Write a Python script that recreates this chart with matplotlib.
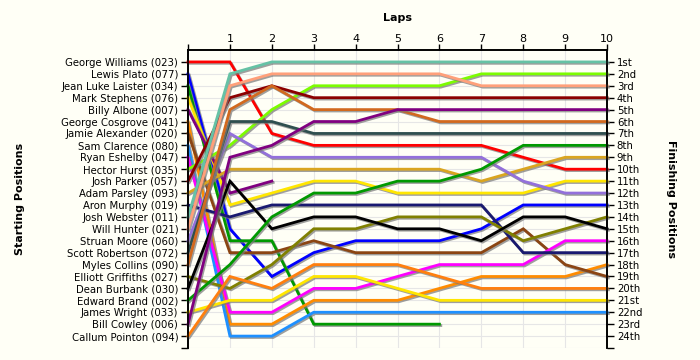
import numpy as np
from matplotlib import pyplot as plt
import matplotlib.patheffects as pe

# starting grid (position 1..24)
drivers = ['George Williams (023)', 'Lewis Plato (077)', 'Jean Luke Laister (034)',
           'Mark Stephens (076)', 'Billy Albone (007)', 'George Cosgrove (041)',
           'Jamie Alexander (020)', 'Sam Clarence (080)', 'Ryan Eshelby (047)',
           'Hector Hurst (035)', 'Josh Parker (057)', 'Adam Parsley (093)',
           'Aron Murphy (019)', 'Josh Webster (011)', 'Will Hunter (021)',
           'Struan Moore (060)', 'Scott Robertson (072)', 'Myles Collins (090)',
           'Elliott Griffiths (027)', 'Dean Burbank (030)', 'Edward Brand (002)',
           'James Wright (033)', 'Bill Cowley (006)', 'Callum Pointon (094)']

finish_labels = ['1st', '2nd', '3rd'] + ['%dth' % i for i in range(4, 21)] + ['21st', '22nd', '23rd', '24th']

# positions per lap (lap 0 = grid), one list per driver in grid order
positions = [
    [1, 1, 7, 8, 8, 8, 8, 8, 9, 10, 10],
    [2, 15, 19, 17, 16, 16, 16, 15, 13, 13, 13],
    [3, 16, 16, 23, 23, 23, 23],
    [4, 13, 12, 11, 11, 12, 12, 12, 12, 11, 11],
    [5, 12, 11],
    [6, 23, 23, 21, 21, 21, 20, 19, 19, 19, 18],
    [7, 17, 17, 16, 17, 17, 17, 17, 15, 18, 19],
    [8, 24, 24, 22, 22, 22, 22, 22, 22, 22, 22],
    [9, 22, 22, 20, 20, 19, 18, 18, 18, 16, 16],
    [10, 8, 5, 3, 3, 3, 3, 2, 2, 2, 2],
    [11, 4, 3, 4, 4, 4, 4, 4, 4, 4, 4],
    [12, 10, 10, 10, 10, 10, 10, 11, 10, 9, 9],
    [13, 14, 13, 13, 13, 13, 13, 13, 17, 17, 17],
    [14, 2, 1, 1, 1, 1, 1, 1, 1, 1, 1],
    [15, 3, 2, 2, 2, 2, 2, 3, 3, 3, 3],
    [16, 7, 9, 9, 9, 9, 9, 9, 11, 12, 12],
    [17, 6, 6, 7, 7, 7, 7, 7, 7, 7, 7],
    [18, 5, 3, 5, 5, 5, 6, 6, 6, 6, 6],
    [19, 20, 18, 15, 15, 14, 14, 14, 16, 15, 14],
    [20, 11, 15, 14, 14, 15, 15, 16, 14, 14, 15],
    [21, 18, 14, 12, 12, 11, 11, 10, 8, 8, 8],
    [22, 21, 21, 19, 19, 20, 21, 21, 21, 21, 21],
    [23, 9, 8, 6, 6, 5, 5, 5, 5, 5, 5],
    [24, 19, 20, 18, 18, 18, 19, 20, 20, 20, 20],
]

colors = ['#ff0000', '#0000ff', '#009900', '#ffe600', '#800080', '#ff8c00',
          '#8b4513', '#1e90ff', '#ff00ff', '#7cfc00', '#8b0000', '#daa520',
          '#191970', '#66c2a5', '#ffa07a', '#9370db', '#2f4f4f', '#d2691e',
          '#808000', '#000000', '#009900', '#ffe600', '#800080', '#ff7f0e']

bg = '#fffff6'
fig = plt.figure(facecolor=bg)
fig.set_size_inches(7, 3.6)
ax = fig.add_axes([0.2686, 0.0333, 0.5986, 0.8278])
ax.set_facecolor(bg)

ax.set_xlim(0, 10)
ax.set_ylim(25, 0)
ax.set_xticks(range(0, 11))
ax.set_xticklabels([''] + [str(i) for i in range(1, 11)], fontsize=8)
ax.xaxis.tick_top()
ax.set_xlabel('Laps', fontsize=8, fontweight='bold', labelpad=9)
ax.xaxis.set_label_position('top')

ax.set_yticks(range(1, 26))
ax.set_yticklabels(drivers + [''], fontsize=7.3)
ax.set_ylabel('Starting Positions', fontsize=8, fontweight='bold', labelpad=26)
ax.tick_params(axis='y', direction='out', length=5, width=1, pad=2)
ax.tick_params(axis='x', direction='out', length=4, width=1, pad=0.5)

ax2 = ax.twinx()
ax2.set_ylim(25, 0)
ax2.set_yticks(range(1, 26))
ax2.set_yticklabels(finish_labels + [''], fontsize=7.3)
ax2.tick_params(axis='y', direction='out', length=5, width=1, pad=2)
ax2.set_ylabel('Finishing Positions', fontsize=8, fontweight='bold', rotation=270, labelpad=24)

for a in (ax, ax2):
    for s in ['left', 'right', 'top']:
        a.spines[s].set_linewidth(1.2)
    a.spines['bottom'].set_visible(False)

ax.grid(True, color='#e6e6e6', linewidth=0.8)
ax.set_axisbelow(True)

shadow = [pe.SimpleLineShadow(offset=(1, -1), shadow_color='#777777', alpha=0.7), pe.Normal()]
for pos, c in zip(positions, colors):
    laps = np.arange(len(pos))
    ax2.plot(laps, pos, color=c, linewidth=2, solid_joinstyle='miter', path_effects=shadow, clip_on=False)

fig.savefig('out.png', dpi=100, facecolor=bg)
